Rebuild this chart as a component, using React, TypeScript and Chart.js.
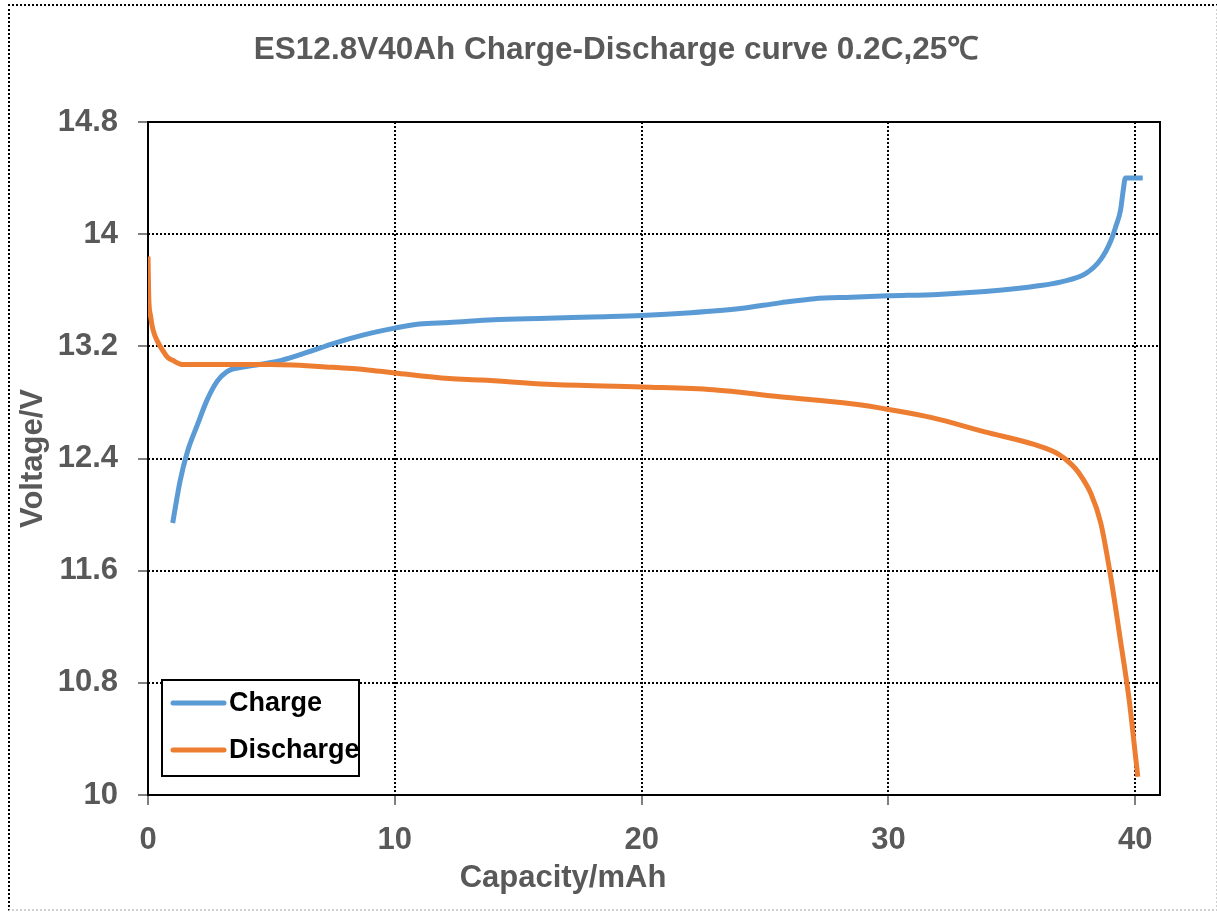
import React, { useEffect, useRef } from "react";
import { Chart, registerables } from "chart.js";

Chart.register(...registerables);

const TITLE = "ES12.8V40Ah Charge-Discharge curve 0.2C,25℃";
const X_TITLE = "Capacity/mAh";
const Y_TITLE = "Voltage/V";

const xTicks = [0, 10, 20, 30, 40];
const yTicks = [10, 10.8, 11.6, 12.4, 13.2, 14, 14.8];

const chargeCapacity = [
  1.0, 1.3, 1.6, 2.0, 2.4, 2.8, 3.2, 3.8, 4.5, 5.4, 6.5, 7.5, 8.7, 10.0, 11.0, 12.2, 14.0,
  16.2, 18.0, 20.0, 22.0, 24.0, 25.6, 27.0, 28.5, 30.0, 32.0, 34.5, 36.0, 37.0, 38.0,
  38.6, 39.0, 39.2, 39.4, 39.5, 39.6, 40.3,
];
const chargeVoltage = [
  11.94, 12.24, 12.45, 12.64, 12.82, 12.95, 13.02, 13.05, 13.07, 13.1, 13.16, 13.22, 13.28,
  13.33, 13.36, 13.37, 13.39, 13.4, 13.41, 13.42, 13.44, 13.47, 13.51, 13.54, 13.55, 13.56,
  13.57, 13.6, 13.63, 13.66, 13.72, 13.82, 13.95, 14.05, 14.17, 14.3, 14.4, 14.4,
];

const dischargeCapacity = [
  0.0, 0.03, 0.1, 0.2, 0.4, 0.6, 0.8, 1.0, 1.4, 3.0, 5.0, 7.5, 9.0, 10.0, 12.2, 13.5,
  16.2, 20.0, 22.9, 25.6, 28.5, 30.0, 31.8, 33.9, 35.9, 36.9, 37.4, 37.7, 38.2, 38.6,
  39.0, 39.4, 39.75, 39.9, 40.1,
];
const dischargeVoltage = [
  13.84, 13.55, 13.42, 13.32, 13.23, 13.17, 13.12, 13.1, 13.07, 13.07, 13.07, 13.05, 13.03,
  13.01, 12.97, 12.96, 12.93, 12.91, 12.89, 12.84, 12.79, 12.75, 12.69, 12.59, 12.5, 12.43,
  12.36, 12.3, 12.15, 11.94, 11.56, 11.1, 10.68, 10.45, 10.13,
];

const seriesLabels = ["Charge", "Discharge"];
const seriesColors = ["#5B9BD5", "#ED7D31"];

const FONT = "'Liberation Sans', Arial, sans-serif";
const TEXT_GRAY = "#595959";

const decorPlugin = {
  id: "decor",
  beforeDatasetsDraw(chart: any) {
    const { ctx, chartArea } = chart;
    ctx.save();
    ctx.strokeStyle = "#000";
    ctx.lineWidth = 2;
    ctx.setLineDash([]);
    ctx.strokeRect(chartArea.left, chartArea.top, chartArea.right - chartArea.left, chartArea.bottom - chartArea.top);
    ctx.restore();
  },
  afterDraw(chart: any) {
    const { ctx, chartArea } = chart;
    ctx.save();
    ctx.fillStyle = TEXT_GRAY;
    ctx.font = `bold 31.5px ${FONT}`;
    ctx.textAlign = "center";
    ctx.textBaseline = "alphabetic";
    ctx.fillText(TITLE, 616, 59);
    ctx.font = `bold 31px ${FONT}`;
    ctx.fillText(X_TITLE, 563, 887);
    ctx.save();
    ctx.translate(42, (chartArea.top + chartArea.bottom) / 2);
    ctx.rotate(-Math.PI / 2);
    ctx.fillText(Y_TITLE, 0, 0);
    ctx.restore();

    const lx = 162, ly = 680, lw = 197, lh = 96;
    ctx.fillStyle = "#fff";
    ctx.fillRect(lx, ly, lw, lh);
    ctx.strokeStyle = "#000";
    ctx.lineWidth = 2;
    ctx.strokeRect(lx, ly, lw, lh);
    const rows = [703, 750];
    seriesLabels.forEach((label, i) => {
      ctx.strokeStyle = seriesColors[i];
      ctx.lineWidth = 5;
      ctx.lineCap = "round";
      ctx.beginPath();
      ctx.moveTo(173, rows[i]);
      ctx.lineTo(224, rows[i]);
      ctx.stroke();
      ctx.fillStyle = "#000";
      ctx.font = `bold 27px ${FONT}`;
      ctx.textAlign = "left";
      ctx.textBaseline = "middle";
      ctx.fillText(label, 229, rows[i] + 1);
    });
    ctx.restore();
  },
};

export default function App() {
  const canvasRef = useRef<HTMLCanvasElement | null>(null);

  useEffect(() => {
    const canvas = canvasRef.current;
    if (!canvas) return;
    const chargeData = chargeCapacity.map((x, i) => ({ x, y: chargeVoltage[i] }));
    const dischargeData = dischargeCapacity.map((x, i) => ({ x, y: dischargeVoltage[i] }));

    const chart = new Chart(canvas, {
      type: "line",
      data: {
        datasets: [
          {
            label: seriesLabels[0],
            data: chargeData,
            borderColor: seriesColors[0],
            backgroundColor: seriesColors[0],
            borderWidth: 5,
            pointRadius: 0,
            cubicInterpolationMode: "monotone",
            order: 2,
          },
          {
            label: seriesLabels[1],
            data: dischargeData,
            borderColor: seriesColors[1],
            backgroundColor: seriesColors[1],
            borderWidth: 5,
            pointRadius: 0,
            cubicInterpolationMode: "monotone",
            order: 1,
          },
        ],
      },
      options: {
        animation: false,
        responsive: false,
        devicePixelRatio: 1,
        layout: { padding: { left: 0, right: 57, top: 122, bottom: 0 } },
        plugins: {
          legend: { display: false },
          title: { display: false },
          tooltip: { enabled: false },
        },
        scales: {
          x: {
            type: "linear",
            min: 0,
            max: 41,
            afterBuildTicks: (scale: any) => {
              scale.ticks = xTicks.map((v) => ({ value: v }));
            },
            afterFit: (scale: any) => {
              scale.height = 117;
            },
            border: { display: false, dash: [2, 2] },
            grid: {
              color: "#000",
              lineWidth: 2,
              drawTicks: true,
              tickLength: 10,
              tickColor: "#555",
              tickWidth: 1.5,
              tickBorderDash: [],
            },
            ticks: {
              color: TEXT_GRAY,
              font: { family: FONT, size: 31, weight: "bold" },
              padding: 17,
              maxRotation: 0,
              autoSkip: false,
              callback: (v: any) => String(v),
            },
          },
          y: {
            type: "linear",
            min: 10,
            max: 14.8,
            afterBuildTicks: (scale: any) => {
              scale.ticks = yTicks.map((v) => ({ value: v }));
            },
            afterFit: (scale: any) => {
              scale.width = 148;
            },
            border: { display: false, dash: [2, 2] },
            grid: {
              color: "#000",
              lineWidth: 2,
              drawTicks: true,
              tickLength: 10,
              tickColor: "#555",
              tickWidth: 1.5,
              tickBorderDash: [],
            },
            ticks: {
              color: TEXT_GRAY,
              font: { family: FONT, size: 31, weight: "bold" },
              padding: 20,
              autoSkip: false,
              callback: (v: any) => String(v),
            },
          },
        },
      },
      plugins: [decorPlugin],
    } as any);

    return () => {
      chart.destroy();
    };
  }, []);

  return (
    <div style={{ position: "fixed", left: 0, top: 0, width: 1217, height: 912, background: "#fff" }}>
      <div
        style={{
          position: "absolute",
          left: 8,
          top: 4,
          width: 1210,
          height: 907,
          boxSizing: "border-box",
          borderLeft: "2px dotted #000",
          borderTop: "2px dotted #000",
          borderBottom: "2px dotted #d0d0d0",
          borderRight: "2px dotted #d0d0d0",
        }}
      />
      <canvas
        ref={canvasRef}
        width={1217}
        height={912}
        style={{ position: "absolute", left: 0, top: 0, width: 1217, height: 912 }}
      />
    </div>
  );
}
